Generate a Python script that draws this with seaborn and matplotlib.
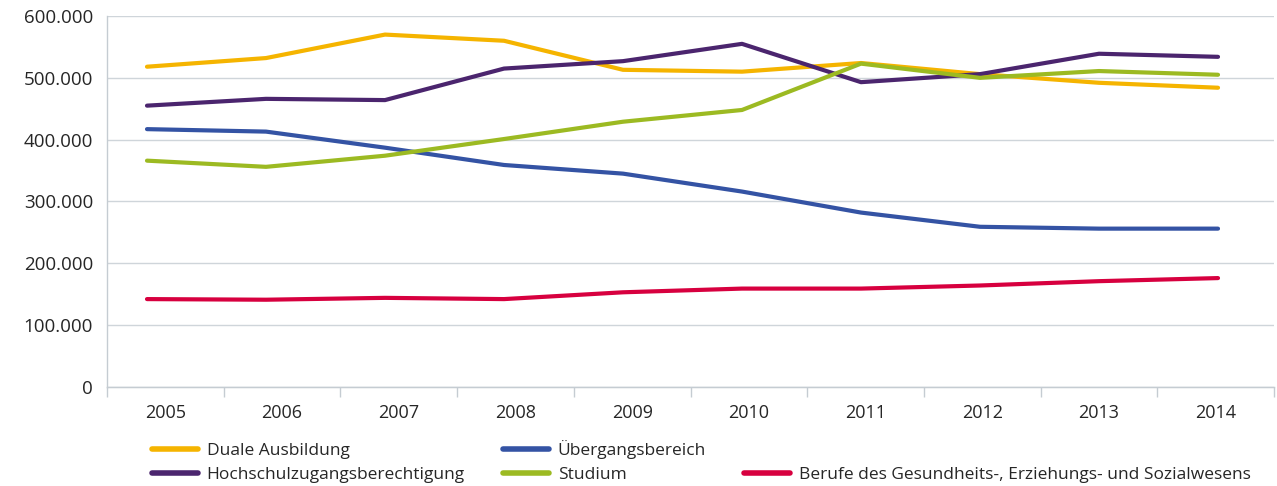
import pandas as pd
import matplotlib
matplotlib.use("Agg")
import matplotlib.pyplot as plt
import seaborn as sns
from matplotlib.ticker import FuncFormatter, MultipleLocator

years = [2005, 2006, 2007, 2008, 2009, 2010, 2011, 2012, 2013, 2014]

duale = [518000, 532000, 570000, 560000, 513000, 510000, 524000, 506000, 492000, 484000]
hochschul = [455000, 466000, 464000, 515000, 527000, 555000, 493000, 506000, 539000, 534000]
uebergang = [417000, 413000, 387000, 359000, 345000, 316000, 282000, 259000, 256000, 256000]
studium = [366000, 356000, 374000, 401000, 429000, 448000, 523000, 500000, 511000, 505000]
berufe = [142000, 141000, 144000, 142000, 153000, 159000, 159000, 164000, 171000, 176000]

series = {
    "Duale Ausbildung": duale,
    "Hochschulzugangsberechtigung": hochschul,
    "Übergangsbereich": uebergang,
    "Studium": studium,
    "Berufe des Gesundheits-, Erziehungs- und Sozialwesens": berufe,
}
colors = ["#F5B400", "#4B256E", "#3453A4", "#9CBA22", "#D7003F"]

rows = []
for name, vals in series.items():
    for y, v in zip(years, vals):
        rows.append({"Jahr": y, "Wert": v, "Reihe": name})
df = pd.DataFrame(rows)

sns.set_style("white")
plt.rcParams["font.family"] = ["Open Sans", "DejaVu Sans"]
axis_grey = "#c5ccd2"

fig = plt.figure(figsize=(12.77, 4.86), dpi=100)
ax = fig.add_axes([0.0838, 0.204, 0.9139, 0.763])

sns.lineplot(data=df, x="Jahr", y="Wert", hue="Reihe", palette=colors,
             linewidth=3, ax=ax, legend=False)

# the lines sit a bit off the category slots in the original
left, right = 2004.664, 2014.471
ax.set_xlim(left, right)
ax.set_ylim(0, 600000)
ax.yaxis.set_major_locator(MultipleLocator(100000))
ax.yaxis.set_major_formatter(FuncFormatter(lambda v, p: "0" if v == 0 else f"{int(v):,}".replace(",", ".")))
ax.set_xticks([])
ax.tick_params(axis="y", length=6, color=axis_grey, width=1, labelsize=13.5, pad=4)
ax.grid(axis="y", color="#cfd5da", linewidth=1)
ax.set_xlabel("")
ax.set_ylabel("")
for s in ["top", "right"]:
    ax.spines[s].set_visible(False)
for s in ["left", "bottom"]:
    ax.spines[s].set_color(axis_grey)
    ax.spines[s].set_linewidth(1)

n = len(years)
sec = ax.secondary_xaxis("bottom",
                         functions=(lambda x: (x - left) / (right - left) * n,
                                    lambda c: left + c / n * (right - left)))
sec.set_xticks([i + 0.5 for i in range(n)], [str(y) for y in years])
sec.set_xticks(list(range(n + 1)), minor=True)
sec.tick_params(axis="x", which="major", length=0, pad=12, labelsize=13)
sec.tick_params(axis="x", which="minor", length=7, color=axis_grey, width=1)
sec.spines["bottom"].set_color(axis_grey)

handles = [plt.Line2D([], [], color=c, linewidth=4) for c in colors]
labels = list(series.keys())
# blank slot so the last entry lands in the second row
handles.insert(4, plt.Line2D([], [], color="none"))
labels.insert(4, "")
fig.legend(handles, labels, ncol=3, loc="upper left",
           bbox_to_anchor=(0.119, 0.094), frameon=False, fontsize=12.5,
           handlelength=2.65, handletextpad=0.5, columnspacing=2.2,
           labelspacing=0.42, borderaxespad=0, borderpad=0)

fig.savefig("out.png", dpi=100)
